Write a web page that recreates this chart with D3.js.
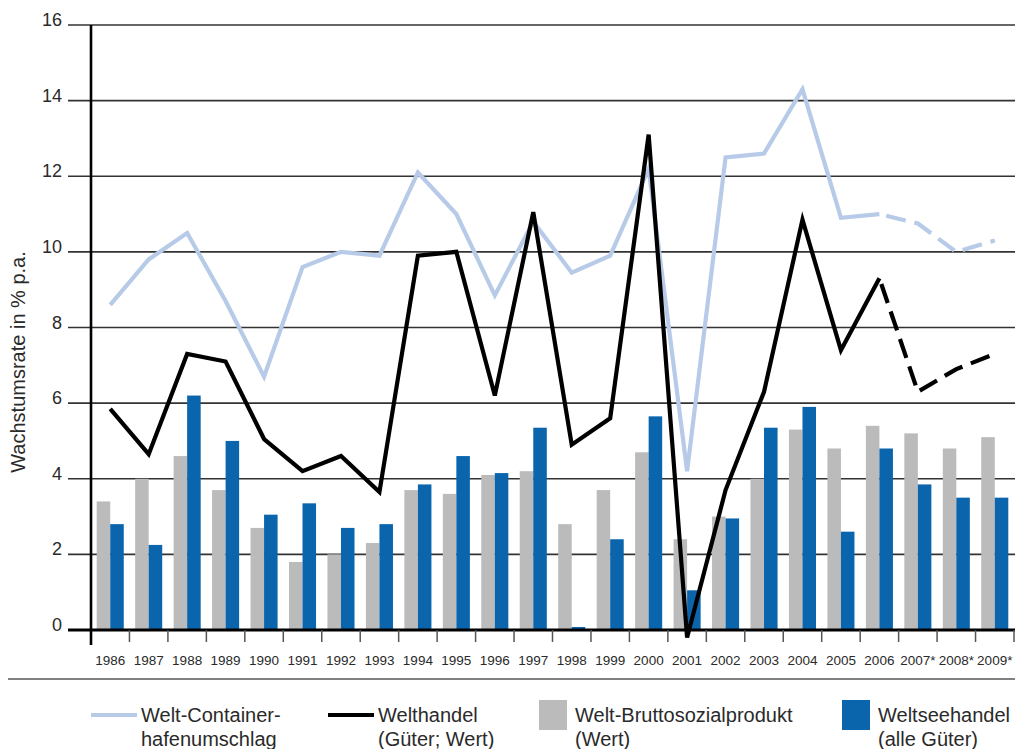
<!DOCTYPE html>
<html lang="de">
<head>
  <meta charset="UTF-8">
  <title>Wachstumsraten Welthandel</title>
  <script src="https://d3js.org/d3.v7.min.js"></script>
  <style>
    body { margin: 0; background: #fff; }
    text { font-family: "Liberation Sans", Arial, sans-serif; fill: #2a2a2a; }
  </style>
</head>
<body>
<div id="chart"></div>
<script>
// data
var years = ["1986","1987","1988","1989","1990","1991","1992","1993","1994","1995","1996","1997",
             "1998","1999","2000","2001","2002","2003","2004","2005","2006","2007*","2008*","2009*"];
var container = [8.6, 9.8, 10.5, 8.7, 6.7, 9.6, 10.0, 9.9, 12.1, 11.0, 8.85, 10.8,
                 9.45, 9.9, 12.2, 4.2, 12.5, 12.6, 14.3, 10.9, 11.0, 10.75, 10.0, 10.3];
var trade = [5.85, 4.65, 7.3, 7.1, 5.05, 4.2, 4.6, 3.65, 9.9, 10.0, 6.2, 11.05,
             4.9, 5.6, 13.1, -0.2, 3.7, 6.3, 10.85, 7.4, 9.3, 6.3, 6.9, 7.3];
var gdp = [3.4, 4.0, 4.6, 3.7, 2.7, 1.8, 2.0, 2.3, 3.7, 3.6, 4.1, 4.2,
           2.8, 3.7, 4.7, 2.4, 3.0, 4.0, 5.3, 4.8, 5.4, 5.2, 4.8, 5.1];
var seaTrade = [2.8, 2.25, 6.2, 5.0, 3.05, 3.35, 2.7, 2.8, 3.85, 4.6, 4.15, 5.35,
                0.08, 2.4, 5.65, 1.05, 2.95, 5.35, 5.9, 2.6, 4.8, 3.85, 3.5, 3.5];
var yTicks = [0, 2, 4, 6, 8, 10, 12, 14, 16];
var forecastFrom = 20; // index of 2006, lines dashed afterwards

var legendItems = [
  {type: "line", color: "#b7cbe8", lines: ["Welt-Container-", "hafenumschlag"]},
  {type: "line", color: "#000000", lines: ["Welthandel", "(Güter; Wert)"]},
  {type: "rect", color: "#bbbbbb", lines: ["Welt-Bruttosozialprodukt", "(Wert)"]},
  {type: "rect", color: "#0b65ad", lines: ["Weltseehandel", "(alle Güter)"]}
];

var width = 1015, height = 749;
var plotLeft = 91, plotRight = 1014, plotTop = 25, plotBottom = 630;

var svg = d3.select("#chart").append("svg")
    .attr("width", width)
    .attr("height", height);

// scales
var x = d3.scaleBand().domain(years).range([plotLeft, plotRight]);
var xSub = d3.scaleBand().domain(["gdp", "sea"])
    .range([5.7, x.bandwidth() - 5.7]);
var y = d3.scaleLinear().domain([0, 16]).range([plotBottom, plotTop]);

// horizontal grid lines with labels
var grid = svg.append("g");
grid.selectAll("line")
  .data(yTicks.filter(function(d) { return d > 0; }))
  .enter().append("line")
    .attr("x1", 68).attr("x2", width)
    .attr("y1", function(d) { return y(d); })
    .attr("y2", function(d) { return y(d); })
    .attr("stroke", "#333")
    .attr("stroke-width", 1.6);
grid.selectAll("text")
  .data(yTicks)
  .enter().append("text")
    .attr("x", 62)
    .attr("y", function(d) { return y(d) + 1; })
    .attr("text-anchor", "end")
    .style("font-size", "18px")
    .text(function(d) { return d; });

// bars
var bars = svg.append("g");
bars.selectAll(".gdp")
  .data(years)
  .enter().append("rect")
    .attr("x", function(d) { return x(d) + xSub("gdp"); })
    .attr("y", function(d, i) { return y(gdp[i]); })
    .attr("width", xSub.bandwidth())
    .attr("height", function(d, i) { return plotBottom - y(gdp[i]); })
    .attr("fill", "#bbbbbb");
bars.selectAll(".sea")
  .data(years)
  .enter().append("rect")
    .attr("x", function(d) { return x(d) + xSub("sea"); })
    .attr("y", function(d, i) { return y(seaTrade[i]); })
    .attr("width", xSub.bandwidth())
    .attr("height", function(d, i) { return plotBottom - y(seaTrade[i]); })
    .attr("fill", "#0b65ad");

// zero line, y axis and ticks between the years
svg.append("line")
    .attr("x1", 68).attr("x2", width)
    .attr("y1", y(0)).attr("y2", y(0))
    .attr("stroke", "#000").attr("stroke-width", 3.2);
svg.append("line")
    .attr("x1", plotLeft).attr("x2", plotLeft)
    .attr("y1", plotTop).attr("y2", 645)
    .attr("stroke", "#000").attr("stroke-width", 2.6);
svg.append("g").selectAll("line")
  .data(years.slice(1).concat(["end"]))
  .enter().append("line")
    .attr("x1", function(d) { return d == "end" ? plotRight : x(d); })
    .attr("x2", function(d) { return d == "end" ? plotRight : x(d); })
    .attr("y1", plotBottom).attr("y2", 642)
    .attr("stroke", "#555").attr("stroke-width", 1.5);

// year labels
svg.append("g").selectAll("text")
  .data(years)
  .enter().append("text")
    .attr("x", function(d) { return x(d) + x.bandwidth() / 2; })
    .attr("y", 665)
    .attr("text-anchor", "middle")
    .style("font-size", "13.5px")
    .text(function(d) { return d; });

// lines: solid until 2006, dashed for the forecast years
var line = d3.line()
    .x(function(d) { return x(d.year) + x.bandwidth() / 2; })
    .y(function(d) { return y(d.value); });

function drawSeries(values, color, dashOffset) {
  var pts = years.map(function(d, i) { return {year: d, value: values[i]}; });
  svg.append("path")
      .datum(pts.slice(0, forecastFrom + 1))
      .attr("d", line)
      .attr("fill", "none")
      .attr("stroke", color)
      .attr("stroke-width", 4.2);
  svg.append("path")
      .datum(pts.slice(forecastFrom))
      .attr("d", line)
      .attr("fill", "none")
      .attr("stroke", color)
      .attr("stroke-width", 4.2)
      .attr("stroke-dasharray", "20,9")
      .attr("stroke-dashoffset", dashOffset);
}
drawSeries(container, "#b7cbe8", 22);
drawSeries(trade, "#000000", -6);

// axis title
svg.append("text")
    .attr("transform", "translate(25,362) rotate(-90)")
    .attr("text-anchor", "middle")
    .style("font-size", "20px")
    .text("Wachstumsrate in % p.a.");

// separator above the legend
svg.append("line")
    .attr("x1", 8).attr("x2", width)
    .attr("y1", 679).attr("y2", 679)
    .attr("stroke", "#808080").attr("stroke-width", 2);

// legend
var legendX = [91, 328, 539, 842];
var legend = svg.append("g").selectAll("g")
  .data(legendItems)
  .enter().append("g")
    .attr("transform", function(d, i) { return "translate(" + legendX[i] + ",0)"; });
legend.filter(function(d) { return d.type == "line"; })
  .append("line")
    .attr("x1", 0).attr("x2", 46)
    .attr("y1", 715).attr("y2", 715)
    .attr("stroke", function(d) { return d.color; })
    .attr("stroke-width", 4.2);
legend.filter(function(d) { return d.type == "rect"; })
  .append("rect")
    .attr("x", 0).attr("y", 700)
    .attr("width", 28).attr("height", 30)
    .attr("fill", function(d) { return d.color; });
legend.append("text")
    .attr("x", function(d) { return d.type == "line" ? 50 : 36; })
    .attr("y", 722)
    .style("font-size", "20px")
    .selectAll("tspan")
    .data(function(d) { return d.lines; })
    .enter().append("tspan")
      .attr("x", function() { return d3.select(this.parentNode).attr("x"); })
      .attr("dy", function(d, i) { return i == 0 ? 0 : 24; })
      .text(function(d) { return d; });
</script>
</body>
</html>
